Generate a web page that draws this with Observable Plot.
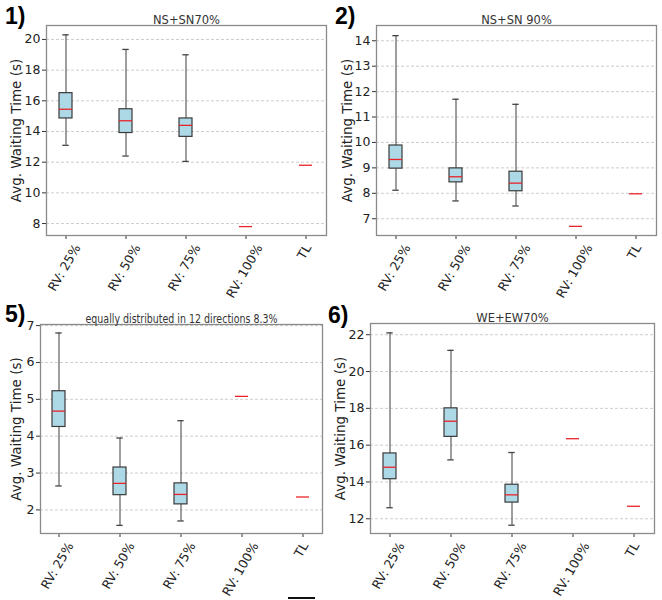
<!DOCTYPE html>
<html>
<head>
<meta charset="utf-8">
<script src="https://cdn.jsdelivr.net/npm/d3@7"></script>
<script src="https://cdn.jsdelivr.net/npm/@observablehq/plot@0.6"></script>
<style>
  body { margin: 0; background: #fff; }
  #wrap { position: relative; width: 662px; height: 600px; overflow: hidden; background: #fff; }
  .panel { position: absolute; width: 331px; height: 300px; }
  .plabel { position: absolute; font-family: "Liberation Sans", Arial, sans-serif; font-weight: bold; font-size: 23px; color: #000; }
</style>
</head>
<body>
<div id="wrap"></div>
<script>
// ---- data ----
const categories = ["RV: 25%", "RV: 50%", "RV: 75%", "RV: 100%", "TL"];

// Panel 1: NS+SN70%
const p1WhiskerHigh = [20.3, 19.35, 19.0, null, null];
const p1Q3          = [16.5, 15.45, 14.85, null, null];
const p1Median      = [15.45, 14.7, 14.4, 7.8, 11.8];
const p1Q1          = [14.85, 13.9, 13.65, null, null];
const p1WhiskerLow  = [13.1, 12.4, 12.05, null, null];
const p1Ticks = [8, 10, 12, 14, 16, 18, 20];

// Panel 2: NS+SN 90%
const p2WhiskerHigh = [14.2, 11.7, 11.5, null, null];
const p2Q3          = [9.88, 8.98, 8.85, null, null];
const p2Median      = [9.33, 8.65, 8.4, 6.7, 7.98];
const p2Q1          = [8.97, 8.43, 8.08, null, null];
const p2WhiskerLow  = [8.12, 7.7, 7.5, null, null];
const p2Ticks = [7, 8, 9, 10, 11, 12, 13, 14];

// Panel 5: equally distributed in 12 directions 8.3%
const p5WhiskerHigh = [6.8, 3.95, 4.42, null, null];
const p5Q3          = [5.22, 3.15, 2.72, null, null];
const p5Median      = [4.68, 2.72, 2.42, 5.08, 2.35];
const p5Q1          = [4.25, 2.4, 2.15, null, null];
const p5WhiskerLow  = [2.65, 1.58, 1.7, null, null];
const p5Ticks = [2, 3, 4, 5, 6, 7];

// Panel 6: WE+EW70%
const p6WhiskerHigh = [22.1, 21.15, 15.6, null, null];
const p6Q3          = [15.55, 18.0, 13.85, null, null];
const p6Median      = [14.8, 17.3, 13.3, 16.35, 12.68];
const p6Q1          = [14.15, 16.45, 12.88, null, null];
const p6WhiskerLow  = [12.6, 15.2, 11.65, null, null];
const p6Ticks = [12, 14, 16, 18, 20, 22];

const panels = [
  {label: "1)", title: "NS+SN70%", hi: p1WhiskerHigh, q3: p1Q3, med: p1Median, q1: p1Q1, lo: p1WhiskerLow, ticks: p1Ticks, domain: [7.22, 20.91],
   left: 0, top: 0, m: {l: 46, r: 5, t: 25, b: 65}, lx: 5, ly: 3, lo2: 35, titleLen: 0},
  {label: "2)", title: "NS+SN 90%", hi: p2WhiskerHigh, q3: p2Q3, med: p2Median, q1: p2Q1, lo: p2WhiskerLow, ticks: p2Ticks, domain: [6.34, 14.60],
   left: 331, top: 0, m: {l: 45, r: 6, t: 25, b: 65}, lx: 4, ly: 3, lo2: 34, titleLen: 0},
  {label: "5)", title: "equally distributed in 12 directions 8.3%", hi: p5WhiskerHigh, q3: p5Q3, med: p5Median, q1: p5Q1, lo: p5WhiskerLow, ticks: p5Ticks, domain: [1.36, 7.03],
   left: 0, top: 300, m: {l: 40, r: 9, t: 24, b: 67}, lx: 5, ly: 1, lo2: 29, titleLen: 192},
  {label: "6)", title: "WE+EW70%", hi: p6WhiskerHigh, q3: p6Q3, med: p6Median, q1: p6Q1, lo: p6WhiskerLow, ticks: p6Ticks, domain: [11.2, 22.61],
   left: 331, top: 300, m: {l: 39, r: 8, t: 23, b: 67}, lx: -3, ly: 2, lo2: 35.5, titleLen: 0}
];

// measure label widths so rotated labels can be centred on their ticks (matplotlib ha="center")
const tickFont = 12.5;
const ctx = document.createElement("canvas").getContext("2d");
ctx.font = tickFont + "px 'DejaVu Sans'";
const labelWidth = c => ctx.measureText(c).width;

const wrap = document.getElementById("wrap");

for (const p of panels) {
  const rows = categories.map((c, i) => ({cat: c, hi: p.hi[i], q3: p.q3[i], med: p.med[i], q1: p.q1[i], lo: p.lo[i]}));
  const boxes = rows.filter(d => d.q1 != null);
  const xLabels = categories.map(c => Plot.text([c], {
    x: d => d, text: d => d, frameAnchor: "bottom", rotate: -60, textAnchor: "end",
    dx: labelWidth(c) / 4 + 2, dy: 12, fontSize: tickFont, fill: "#222", fontFamily: "DejaVu Sans, sans-serif"
  }));
  const plot = Plot.plot({
    width: 331,
    height: 300,
    marginLeft: p.m.l,
    marginRight: p.m.r,
    marginTop: p.m.t,
    marginBottom: p.m.b,
    style: {fontFamily: "DejaVu Sans, sans-serif", fontSize: "12.5px", color: "#222", background: "transparent"},
    x: {domain: categories, paddingInner: 0.78, paddingOuter: 0.195, label: null},
    y: {domain: p.domain, label: null},
    marks: [
      Plot.gridY(p.ticks, {stroke: "#b8b8b8", strokeOpacity: 1, strokeDasharray: "3,2", strokeWidth: 0.7}),
      Plot.axisY(p.ticks, {tickSize: 4, tickPadding: 2, fontSize: 12.5, stroke: "#333"}),
      Plot.axisX({tickSize: 4, tickFormat: () => "", stroke: "#333"}),
      ...xLabels,
      Plot.axisY({ticks: [], label: "Avg. Waiting Time (s)", labelAnchor: "center", labelArrow: "none", fontSize: 13.5, labelOffset: p.lo2}),
      Plot.ruleX(boxes, {x: "cat", y1: "q3", y2: "hi", stroke: "#6a6a6a", strokeWidth: 1.3}),
      Plot.ruleX(boxes, {x: "cat", y1: "lo", y2: "q1", stroke: "#6a6a6a", strokeWidth: 1.3}),
      Plot.tickY(boxes, {x: "cat", y: "hi", stroke: "#444", strokeWidth: 1.3, insetLeft: 3.3, insetRight: 3.3}),
      Plot.tickY(boxes, {x: "cat", y: "lo", stroke: "#444", strokeWidth: 1.3, insetLeft: 3.3, insetRight: 3.3}),
      Plot.barY(boxes, {x: "cat", y1: "q1", y2: "q3", fill: "#add8e6", stroke: "#3a3a3a", strokeWidth: 1.2}),
      Plot.tickY(rows, {x: "cat", y: "med", stroke: "#e8242a", strokeWidth: 1.3}),
      Plot.frame({stroke: "#8a8a8a", strokeWidth: 1.3}),
      Plot.text([p.title], {frameAnchor: "top", dy: -10, fontSize: 11.5, fill: "#333", fontFamily: "DejaVu Sans, sans-serif", className: "ptitle"})
    ]
  });
  if (p.titleLen) {
    const t = plot.querySelector(".ptitle text");
    if (t) { t.setAttribute("textLength", p.titleLen); t.setAttribute("lengthAdjust", "spacingAndGlyphs"); }
  }
  const div = document.createElement("div");
  div.className = "panel";
  div.style.left = p.left + "px";
  div.style.top = p.top + "px";
  div.appendChild(plot);
  wrap.appendChild(div);

  const lab = document.createElement("div");
  lab.className = "plabel";
  lab.textContent = p.label;
  lab.style.left = (p.left + p.lx) + "px";
  lab.style.top = (p.top + p.ly) + "px";
  wrap.appendChild(lab);
}

// small stray mark at bottom of the original figure
const bar = document.createElement("div");
bar.style.cssText = "position:absolute;left:288px;top:597px;width:27px;height:2px;background:#111;";
wrap.appendChild(bar);
</script>
</body>
</html>
